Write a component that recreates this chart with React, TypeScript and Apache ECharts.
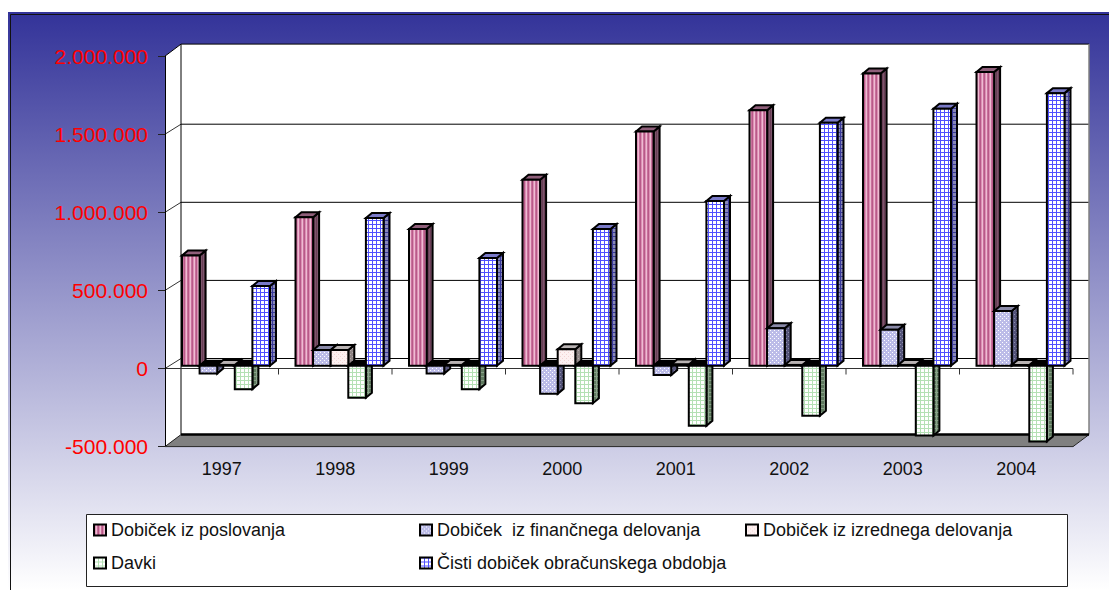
import React, { useEffect, useRef } from "react";
import * as echarts from "echarts";

const years = ["1997", "1998", "1999", "2000", "2001", "2002", "2003", "2004"];
const seriesNames = [
  "Dobiček iz poslovanja",
  "Dobiček  iz finančnega delovanja",
  "Dobiček iz izrednega delovanja",
  "Davki",
  "Čisti dobiček obračunskega obdobja",
];
const poslovanje = [705000, 950000, 875000, 1190000, 1500000, 1635000, 1870000, 1880000];
const financni = [-50000, 100000, -50000, -180000, -60000, 240000, 230000, 350000];
const izredni = [5000, 100000, 5000, 105000, 8000, 5000, 5000, 5000];
const davki = [-150000, -205000, -150000, -240000, -385000, -320000, -447000, -485000];
const cisti = [510000, 945000, 690000, 875000, 1055000, 1555000, 1645000, 1745000];
const allValues = [poslovanje, financni, izredni, davki, cisti];
const yTicks = [-500000, 0, 500000, 1000000, 1500000, 2000000];

function pattern(size: number, draw: (c: CanvasRenderingContext2D) => void) {
  const canvas = document.createElement("canvas");
  canvas.width = size;
  canvas.height = size;
  const ctx = canvas.getContext("2d")!;
  draw(ctx);
  return { image: canvas, repeat: "repeat" };
}
function stripes(cols: string[]) {
  return pattern(cols.length, (c) => {
    cols.forEach((col, i) => {
      c.fillStyle = col;
      c.fillRect(i, 0, 1, cols.length);
    });
  });
}
function grid(bg: string, line: string) {
  return pattern(4, (c) => {
    c.fillStyle = bg;
    c.fillRect(0, 0, 4, 4);
    c.fillStyle = line;
    c.fillRect(0, 0, 4, 1);
    c.fillRect(0, 0, 1, 4);
  });
}
function dots(bg: string, dot: string) {
  return pattern(4, (c) => {
    c.fillStyle = bg;
    c.fillRect(0, 0, 4, 4);
    c.fillStyle = dot;
    c.fillRect(0, 0, 1, 1);
    c.fillRect(2, 2, 1, 1);
  });
}

function App() {
  const ref = useRef<HTMLDivElement>(null);
  useEffect(() => {
    document.body.style.margin = "0";
    const faces = [
      {
        front: stripes(["#b85a88", "#dd90b5", "#eebcd2", "#c8709c"]),
        side: stripes(["#6a3e56", "#7c566c"]),
        top: "#8f5f7a",
      },
      { front: dots("#bcbce8", "#ffffff"), side: dots("#55557a", "#8f8fae"), top: "#8a8aa8" },
      { front: dots("#fdf1f1", "#f2d4d4"), side: dots("#8f8585", "#b5abab"), top: "#b9b3b3" },
      { front: grid("#ffffff", "#b4e0b4"), side: grid("#5f7a5f", "#8aa28a"), top: "#6f8a6f" },
      { front: grid("#ffffff", "#5050ff"), side: grid("#8888b8", "#3a3a9a"), top: "#7a7ac8" },
    ];

    const DX = 16; // wall depth
    const BAR_DX = 6;
    const BAR_DY = 5;
    const BAR_W = 17.6;
    const BAR_START = 17;
    const BASE_SHIFT = 2.8;

    const chrome = (_p: any, api: any) => {
      const band = api.size([1, 0])[0];
      const left = api.coord([0, 0])[0] - band / 2;
      const right = left + band * years.length;
      const top = api.coord([0, yTicks[yTicks.length - 1]])[1];
      const bottom = api.coord([0, yTicks[0]])[1];
      const zero = api.coord([0, 0])[1];
      const black = { stroke: "#000", lineWidth: 1, fill: "none" };
      const children: any[] = [
        {
          type: "polygon",
          shape: {
            points: [
              [left, top],
              [left + DX, top - 12],
              [right + DX, top - 12],
              [right + DX, bottom - 12],
              [right, bottom],
              [left, bottom],
            ],
          },
          style: { fill: "#fff" },
        },
      ];
      yTicks.slice(1, -1).forEach((t) => {
        const y = api.coord([0, t])[1];
        children.push(
          { type: "line", shape: { x1: left, y1: y, x2: left + DX, y2: y - 10 }, style: { stroke: "#333", lineWidth: 1 } },
          { type: "line", shape: { x1: left + DX, y1: y - 10, x2: right + DX, y2: y - 10 }, style: black }
        );
      });
      children.push(
        { type: "line", shape: { x1: left, y1: top, x2: left + DX, y2: top - 12 }, style: black },
        { type: "line", shape: { x1: left + DX, y1: top - 12, x2: right + DX, y2: top - 12 }, style: black },
        { type: "line", shape: { x1: left + DX, y1: top - 12, x2: left + DX, y2: bottom - 12 }, style: black },
        { type: "line", shape: { x1: right + DX, y1: top - 12, x2: right + DX, y2: bottom - 12 }, style: { stroke: "#808080", lineWidth: 1.5 } },
        {
          type: "polygon",
          shape: {
            points: [
              [left, bottom],
              [left + DX, bottom - 12],
              [right + DX, bottom - 12],
              [right, bottom],
            ],
          },
          style: { fill: "#808080", stroke: "#222", lineWidth: 1 },
        },
        { type: "line", shape: { x1: left + DX, y1: bottom - 12, x2: right + DX, y2: bottom - 12 }, style: { stroke: "#000", lineWidth: 2.5 } },
        { type: "line", shape: { x1: left, y1: zero, x2: right, y2: zero }, style: { stroke: "#333", lineWidth: 1 } }
      );
      for (let i = 1; i <= years.length; i++) {
        const x = left + i * band;
        children.push({ type: "line", shape: { x1: x, y1: zero, x2: x, y2: zero + 6 }, style: { stroke: "#333", lineWidth: 1 } });
      }
      return { type: "group", children };
    };

    const bars = (params: any, api: any) => {
      const idx = api.value(0);
      const val = api.value(1);
      const band = api.size([1, 0])[0];
      const f = faces[params.seriesIndex - 1];
      const pos = params.seriesIndex - 1;
      const x = api.coord([idx, 0])[0] - band / 2 + BAR_START + pos * BAR_W;
      const y0 = api.coord([idx, 0])[1] - BASE_SHIFT;
      const yv = api.coord([idx, val])[1] - BASE_SHIFT;
      const w = BAR_W;
      const yTop = Math.min(y0, yv);
      const yBot = Math.max(y0, yv);
      const border = { stroke: "#000", lineWidth: 2, lineJoin: "miter" };
      return {
        type: "group",
        children: [
          {
            type: "polygon",
            shape: {
              points: [
                [x + w, yTop],
                [x + w + BAR_DX, yTop - BAR_DY],
                [x + w + BAR_DX, yBot - BAR_DY],
                [x + w, yBot],
              ],
            },
            style: { fill: f.side, ...border },
          },
          {
            type: "polygon",
            shape: {
              points: [
                [x, yTop],
                [x + BAR_DX, yTop - BAR_DY],
                [x + w + BAR_DX, yTop - BAR_DY],
                [x + w, yTop],
              ],
            },
            style: { fill: val < 0 ? "#000" : f.top, ...border },
          },
          {
            type: "rect",
            shape: { x, y: yTop, width: w, height: yBot - yTop },
            style: { fill: f.front, ...border },
          },
        ],
      };
    };

    const legendPos = [
      { left: 93, top: 521 },
      { left: 419, top: 521 },
      { left: 745, top: 521 },
      { left: 93, top: 554 },
      { left: 419, top: 554 },
    ];

    const chart = echarts.init(ref.current!, undefined, { renderer: "svg" });
    chart.setOption({
      animation: false,
      textStyle: { fontFamily: "Liberation Sans" },
      grid: { left: 165, right: 36, top: 56.1, bottom: 590 - 446.6, containLabel: false },
      xAxis: {
        type: "category",
        data: years,
        z: 3,
        axisLine: { onZero: false, lineStyle: { color: "#333", width: 1 } },
        axisTick: { length: 6, lineStyle: { color: "#333" } },
        axisLabel: { color: "#111", fontSize: 18, margin: 13, fontFamily: "Liberation Sans" },
        splitLine: { show: false },
      },
      yAxis: {
        type: "value",
        min: -500000,
        max: 2000000,
        interval: 500000,
        z: 3,
        axisLine: { show: true, onZero: false, lineStyle: { color: "#000", width: 1 } },
        axisTick: { show: true, length: 7, lineStyle: { color: "#222" } },
        axisLabel: {
          color: "#ff0000",
          fontSize: 21,
          margin: 17,
          padding: [0, 0, 6, 0],
          fontFamily: "Liberation Sans",
          formatter: (v: number) => String(v).replace(/\B(?=(\d{3})+(?!\d))/g, "."),
        },
        splitLine: { show: false },
      },
      legend: seriesNames.map((name, i) => ({
        ...legendPos[i],
        padding: 0,
        itemWidth: 12,
        itemHeight: 11,
        selectedMode: false,
        icon: "rect",
        textStyle: { color: "#111", fontSize: 18, fontFamily: "Liberation Sans" },
        itemStyle: { borderColor: "#000", borderWidth: 2 },
        data: [{ name, icon: "rect" }],
      })),
      graphic: [
        {
          type: "rect",
          z: -10,
          silent: true,
          shape: { x: 8, y: 12, width: 1101, height: 578 },
          style: {
            fill: new echarts.graphic.LinearGradient(0, 0, 0, 1, [
              { offset: 0, color: "#333399" },
              { offset: 1, color: "#ffffff" },
            ]),
          },
        },
        {
          type: "polyline",
          z: -9,
          silent: true,
          shape: { points: [[10.5, 590], [10.5, 14.5], [1109, 14.5]] },
          style: { stroke: "#111", lineWidth: 1, fill: "none" },
        },
        {
          type: "rect",
          z: 1,
          silent: true,
          shape: { x: 86.5, y: 514.5, width: 981, height: 72 },
          style: { fill: "#fff", stroke: "#222", lineWidth: 1 },
        },
      ],
      series: [
        {
          type: "custom",
          name: "__walls",
          z: 1,
          silent: true,
          renderItem: chrome,
          data: [[0, 0]],
        },
        ...seriesNames.map((name, i) => ({
          type: "custom",
          name,
          z: 5 + i,
          silent: true,
          renderItem: bars,
          itemStyle: { color: faces[i].front },
          encode: { x: 0, y: 1 },
          data: allValues[i].map((v, j) => [j, v]),
        })),
      ],
    });
    return () => chart.dispose();
  }, []);
  return <div ref={ref} style={{ position: "absolute", left: 0, top: 0, width: 1109, height: 590 }} />;
}

export default App;
